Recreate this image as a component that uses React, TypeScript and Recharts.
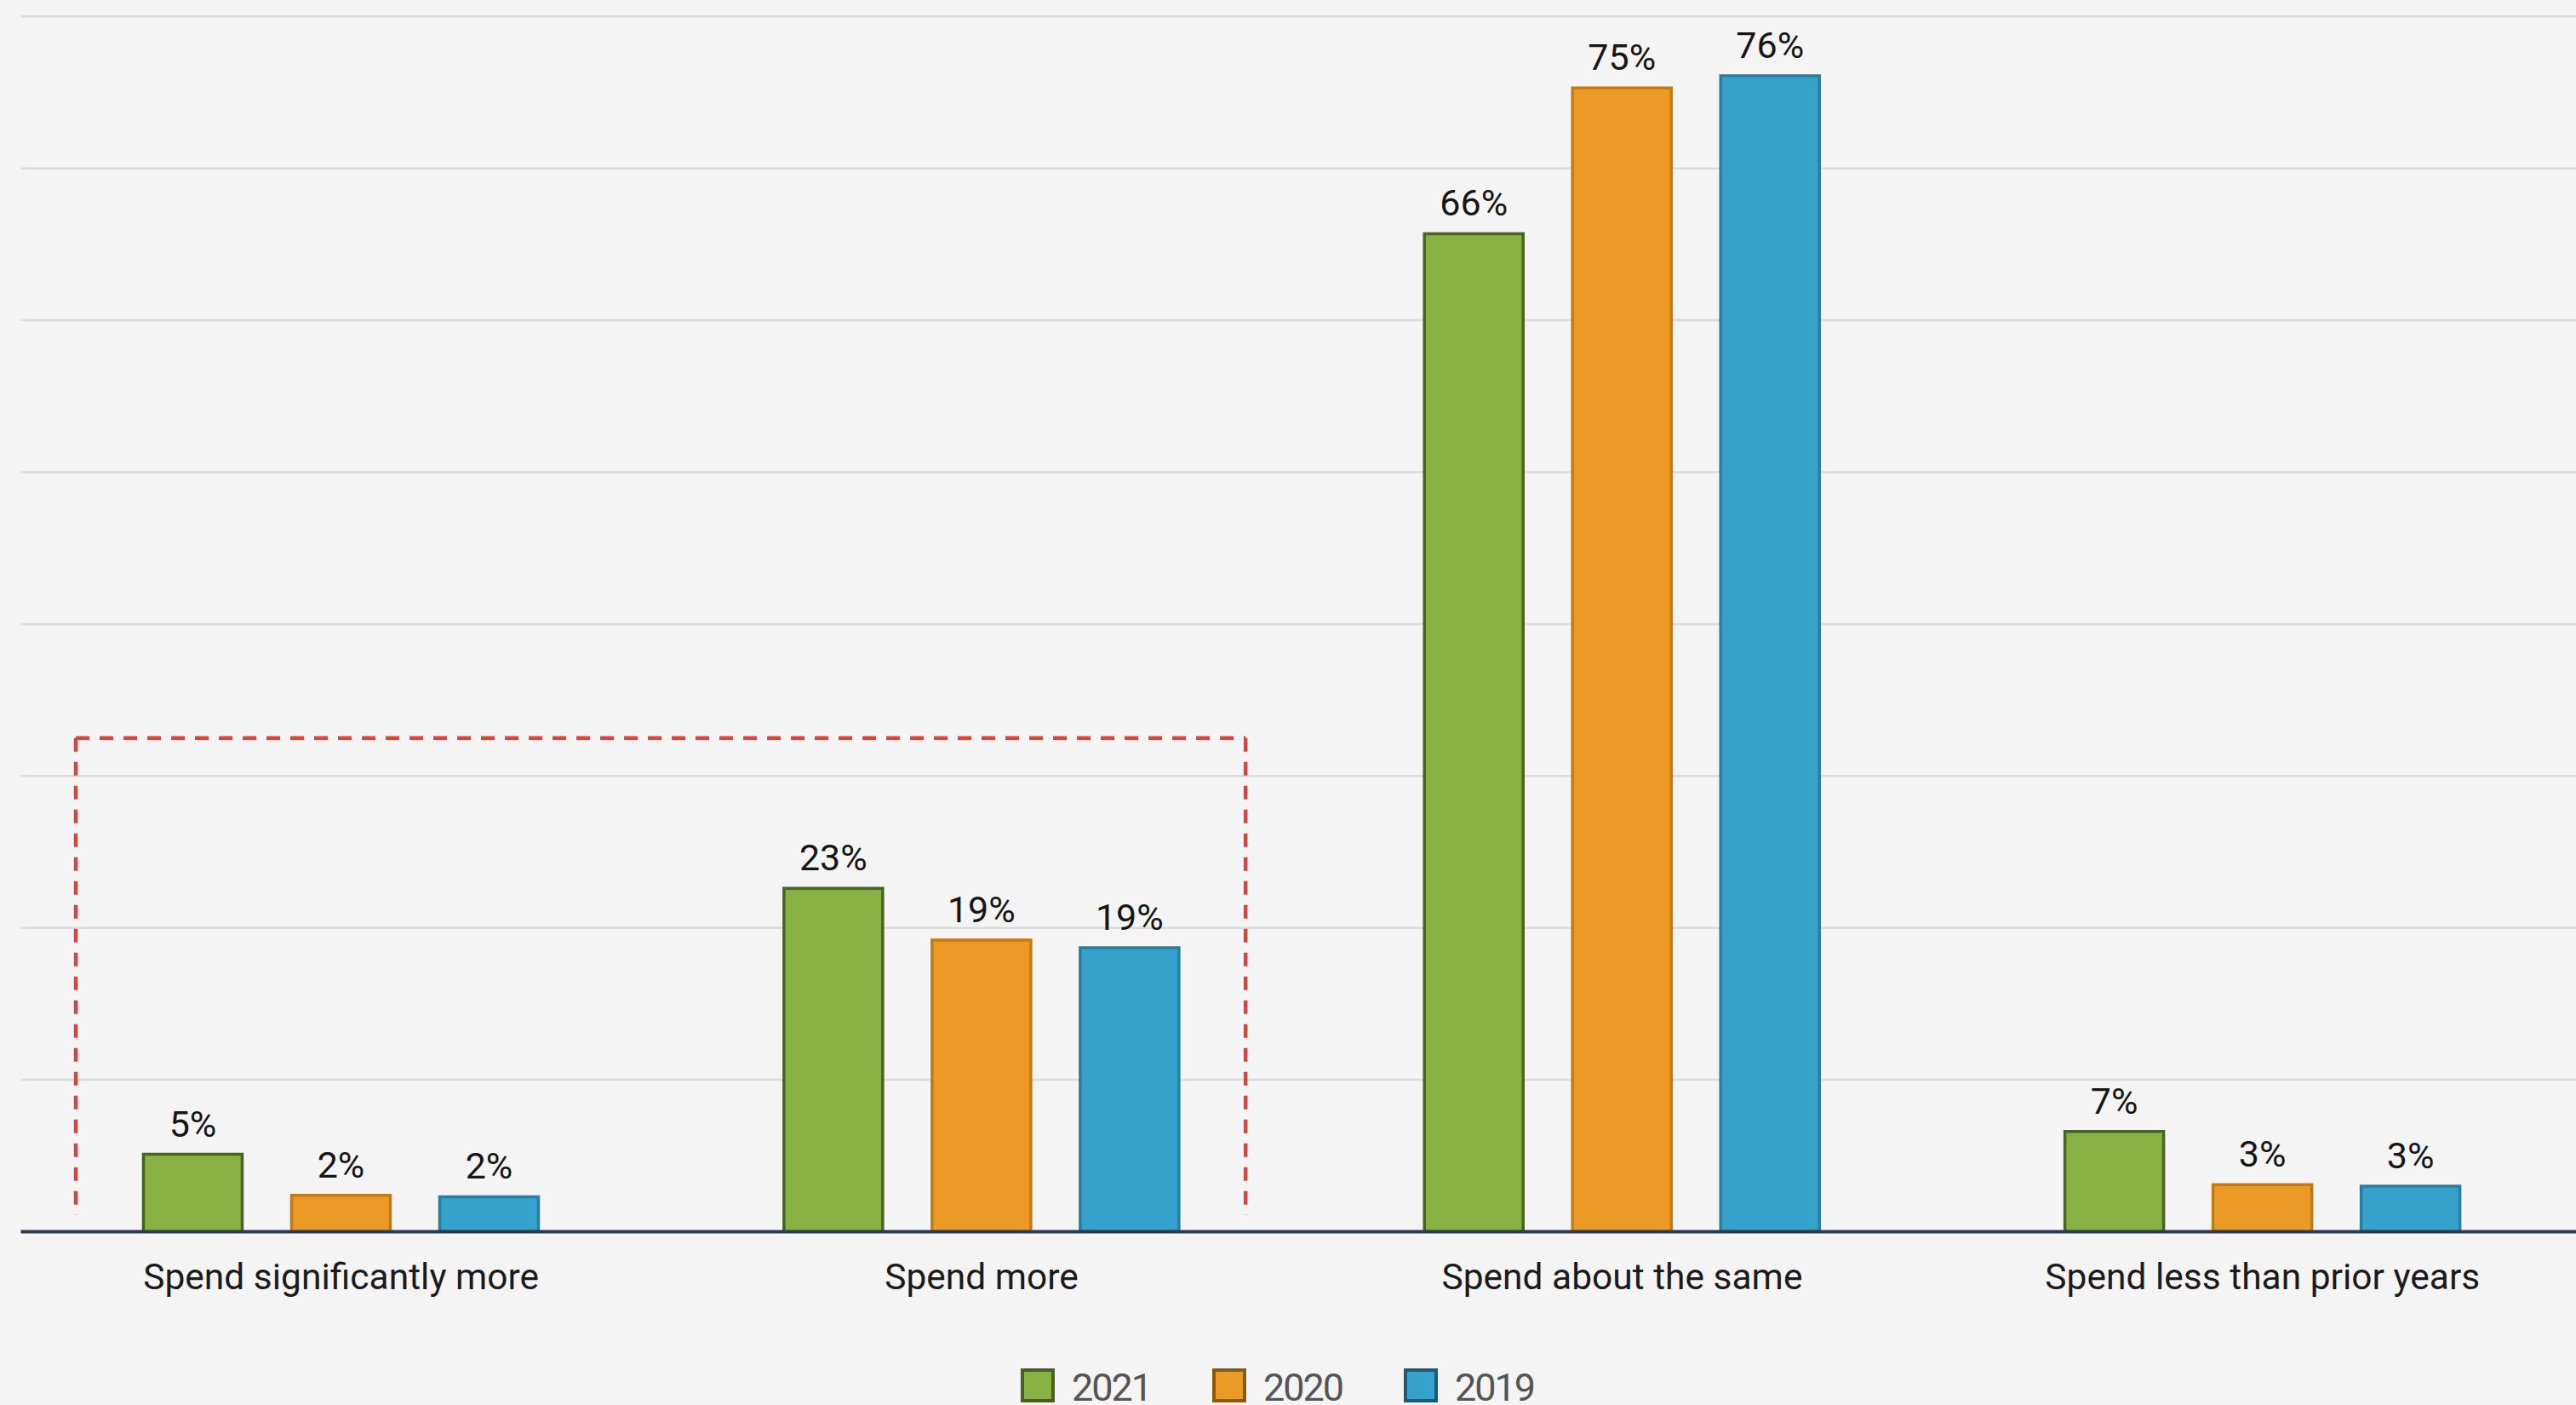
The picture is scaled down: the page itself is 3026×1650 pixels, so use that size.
import React from 'react';
import {
  BarChart,
  Bar,
  XAxis,
  YAxis,
  CartesianGrid,
  LabelList,
  Legend,
  ReferenceArea,
} from 'recharts';

// Survey answers: how spending compares with prior years
const categories = [
  'Spend significantly more',
  'Spend more',
  'Spend about the same',
  'Spend less than prior years',
];
const seriesNames = ['2021', '2020', '2019'];
const values2021 = [5.1, 22.6, 65.7, 6.6];
const values2020 = [2.4, 19.2, 75.3, 3.1];
const values2019 = [2.3, 18.7, 76.1, 3.0];
const yTicks = [0, 10, 20, 30, 40, 50, 60, 70, 80];

// Highlight box around the two "more" answers (value range in %)
const boxFrom = categories[0];
const boxTo = categories[1];
const boxTop = 32.5;
const boxBottom = 1.1;

const fills = ['#87B143', '#EB9A25', '#35A2CB'];
const strokes = ['#4A6325', '#C27A17', '#2A7E9E'];
const legendBorders = ['#4A5E22', '#8A5A12', '#1F5A75'];

const data = categories.map((name, i) => ({
  name,
  y2021: values2021[i],
  y2020: values2020[i],
  y2019: values2019[i],
}));
const seriesKeys = ['y2021', 'y2020', 'y2019'];

const FONT = 'Roboto, "DejaVu Sans", sans-serif';

// Open-bottomed dashed frame drawn inside the reference area's band span
const DashedFrame = (props: any) => {
  const { x, y, width, height } = props;
  const left = x + width * 0.0429;
  const right = x + width * (1 - 0.0439);
  const bottom = y + height;
  const common = {
    stroke: '#D9453C',
    strokeWidth: 4.5,
    strokeDasharray: '16 12',
    fill: 'none',
  };
  return (
    <g>
      <line x1={left} y1={y} x2={right} y2={y} {...common} />
      <line x1={left} y1={y} x2={left} y2={bottom} {...common} />
      <line x1={right} y1={y} x2={right} y2={bottom} {...common} />
    </g>
  );
};

const LegendContent = () => (
  <div style={{ display: 'flex', alignItems: 'center', fontFamily: FONT }}>
    {seriesNames.map((n, i) => (
      <div
        key={n}
        style={{
          display: 'flex',
          alignItems: 'center',
          width: i < seriesNames.length - 1 ? 225 : 'auto',
        }}
      >
        <span
          style={{
            width: 40,
            height: 40,
            boxSizing: 'border-box',
            background: fills[i],
            border: `4px solid ${legendBorders[i]}`,
          }}
        />
        <span
          style={{
            marginLeft: 20,
            position: 'relative',
            top: 3.5,
            fontSize: 45,
            color: '#555555',
            letterSpacing: -2,
            lineHeight: '34px',
          }}
        >
          {n}
        </span>
      </div>
    ))}
  </div>
);

const pct = (v: any) => `${Math.round(Number(v))}%`;

export default function App() {
  return (
    <div
      style={{
        position: 'fixed',
        left: 0,
        top: 0,
        width: 3026,
        height: 1650,
        overflow: 'hidden',
        background: '#F4F4F4',
      }}
    >
      <BarChart
        width={3040}
        height={1650}
        data={data}
        margin={{ top: 19.3, right: 6, left: 24.5, bottom: 103.5 }}
        barSize={116}
        barGap={58}
      >
        <CartesianGrid vertical={false} stroke="#DCDCDC" strokeWidth={2.5} />
        <XAxis
          dataKey="name"
          height={100}
          tickLine={false}
          tickSize={0}
          tickMargin={37}
          axisLine={{ stroke: '#2C3A4C', strokeWidth: 4 }}
          tick={{ fill: '#1B1B1B', fontSize: 42.5, fontFamily: FONT }}
          interval={0}
        />
        <YAxis hide domain={[0, 80]} ticks={yTicks} allowDataOverflow />
        {seriesKeys.map((k, i) => (
          <Bar
            key={k}
            dataKey={k}
            name={seriesNames[i]}
            fill={fills[i]}
            stroke={strokes[i]}
            strokeWidth={3.5}
            isAnimationActive={false}
          >
            <LabelList
              dataKey={k}
              position="top"
              offset={21}
              formatter={pct}
              style={{ fill: '#161616', fontSize: 43, fontFamily: FONT }}
            />
          </Bar>
        ))}
        <ReferenceArea
          x1={boxFrom}
          x2={boxTo}
          y1={boxBottom}
          y2={boxTop}
          ifOverflow="visible"
          shape={<DashedFrame />}
        />
        <Legend
          layout="horizontal"
          verticalAlign="middle"
          align="center"
          content={<LegendContent />}
          wrapperStyle={{ top: 1606.7, left: 1199, width: 'auto', height: 'auto' }}
        />
      </BarChart>
    </div>
  );
}
